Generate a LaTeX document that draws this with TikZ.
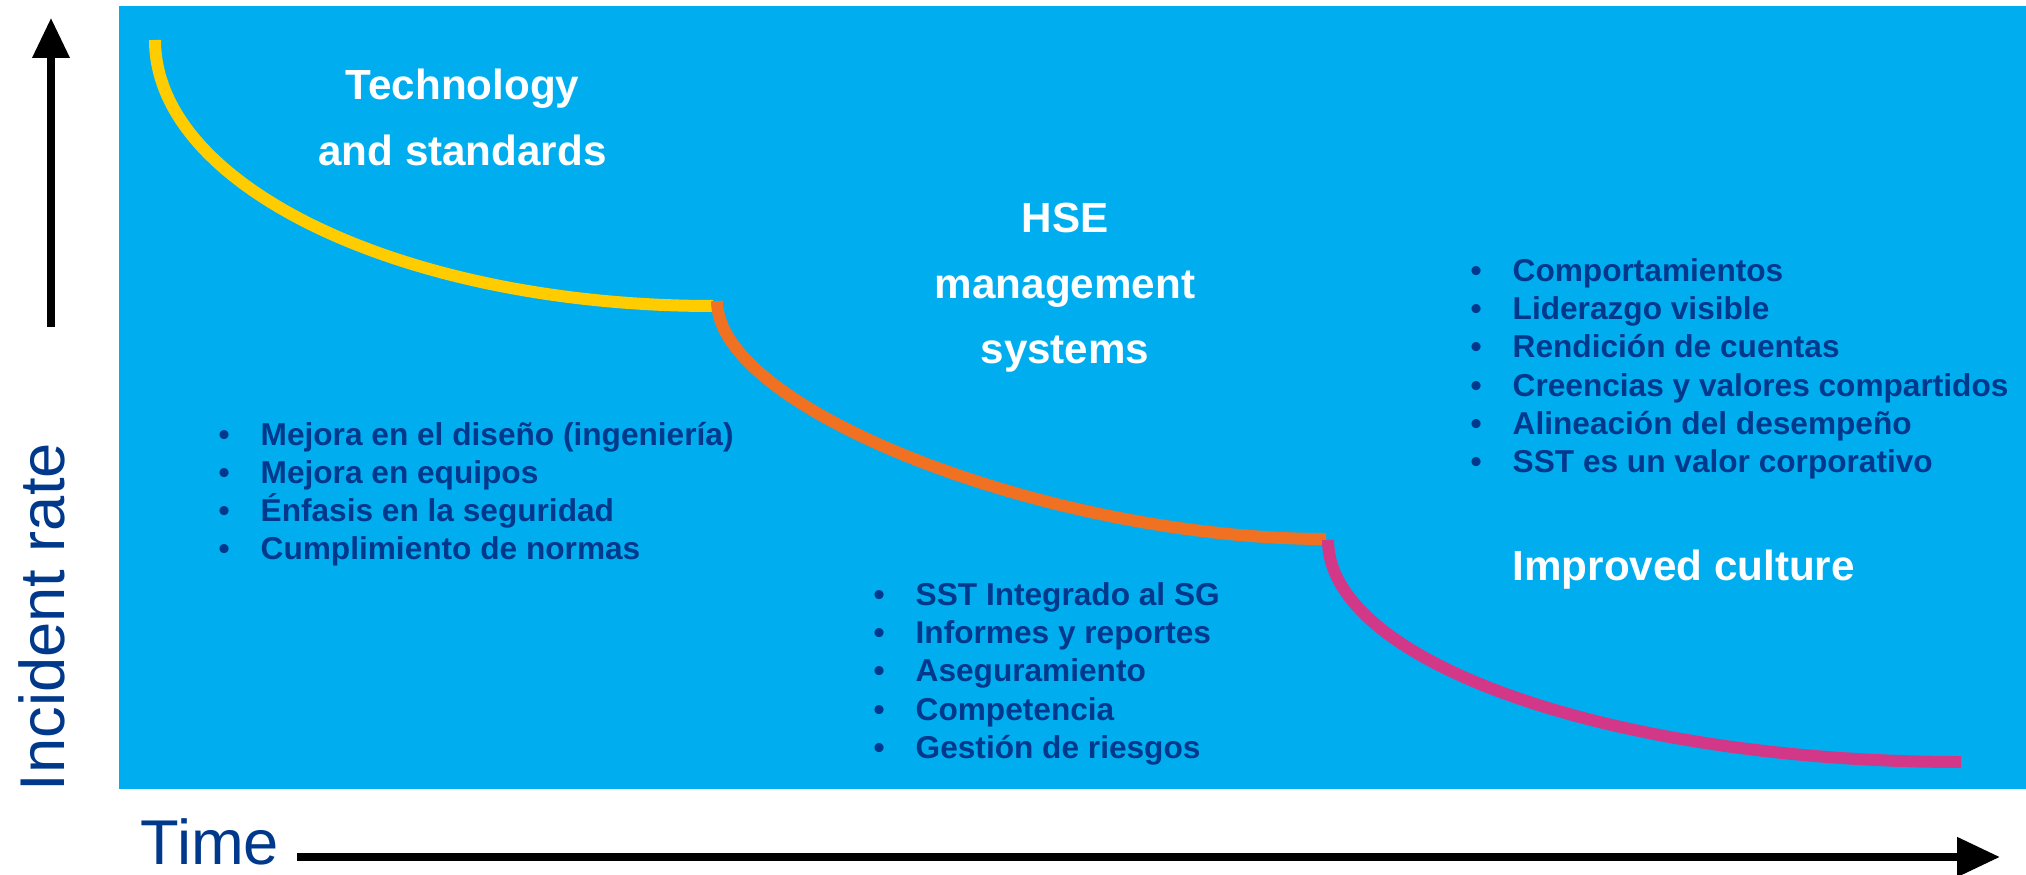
\documentclass[tikz,border=0pt]{standalone}
\usepackage{fontspec}
\setmainfont{Liberation Sans}
\usetikzlibrary{arrows.meta}
\definecolor{skyblue}{RGB}{0,174,239}
\definecolor{phaseyellow}{RGB}{255,204,0}
\definecolor{phaseorange}{RGB}{240,113,34}
\definecolor{phasepink}{RGB}{210,56,135}
\definecolor{navy}{RGB}{0,56,140}
\newcommand{\bul}{\makebox[0.42cm][l]{\textbullet}}

\begin{document}
\begin{tikzpicture}[
  phase/.style={text=white, font=\fontsize{12}{14}\selectfont\bfseries, inner sep=0, anchor=base},
  item/.style={text=navy, font=\fontsize{9}{11}\selectfont\bfseries, inner sep=0, anchor=base west},
  axislabel/.style={text=navy, font=\fontsize{18}{21}\selectfont, inner sep=0, anchor=base west},
  curve/.style={line width=0.12cm},
  axis/.style={line width=0.07cm, -{Triangle[length=0.40cm,width=0.36cm]}}
]
\useasboundingbox (0,0) rectangle (20.26,8.74);
\fill [skyblue] (1.19,0.85) rectangle (20.26,8.68);

\draw [curve, phaseyellow] (1.55,8.34) .. controls (1.55,6.87) and (4.05,5.68) .. (7.13,5.68);
\draw [curve, phaseorange] (7.17,5.73) .. controls (7.17,4.64) and (10.52,3.35) .. (13.26,3.35);
\draw [curve, phasepink] (13.28,3.34) .. controls (13.28,2.12) and (16.12,1.12) .. (19.61,1.12);

\node [phase] (tech1) at (4.625,7.747) {Technology};
\node [phase] (tech2) at (4.625,7.083) {and standards};
\node [phase] (hse1) at (10.65,6.414) {HSE};
\node [phase] (hse2) at (10.65,5.757) {management};
\node [phase] (hse3) at (10.65,5.10) {systems};
\node [phase, anchor=base west] (cult) at (15.12,2.94) {Improved culture};

\node [item] (a1) at (2.18,4.29) {\bul Mejora en el diseño (ingeniería)};
\node [item] (a2) at (2.18,3.91) {\bul Mejora en equipos};
\node [item] (a3) at (2.18,3.53) {\bul Énfasis en la seguridad};
\node [item] (a4) at (2.18,3.15) {\bul Cumplimiento de normas};

\node [item] (b1) at (8.73,2.685) {\bul SST Integrado al SG};
\node [item] (b2) at (8.73,2.303) {\bul Informes y reportes};
\node [item] (b3) at (8.73,1.921) {\bul Aseguramiento};
\node [item] (b4) at (8.73,1.539) {\bul Competencia};
\node [item] (b5) at (8.73,1.157) {\bul Gestión de riesgos};

\node [item] (c1) at (14.70,5.925) {\bul Comportamientos};
\node [item] (c2) at (14.70,5.543) {\bul Liderazgo visible};
\node [item] (c3) at (14.70,5.161) {\bul Rendición de cuentas};
\node [item] (c4) at (14.70,4.779) {\bul Creencias y valores compartidos};
\node [item] (c5) at (14.70,4.397) {\bul Alineación del desempeño};
\node [item] (c6) at (14.70,4.015) {\bul SST es un valor corporativo};

\coordinate (ybot) at (0.51,5.47);
\coordinate (ytop) at (0.51,8.56);
\draw [axis] (ybot) -- (ytop);
\coordinate (xleft) at (2.97,0.17);
\coordinate (xright) at (20.00,0.17);
\draw [axis, line width=0.08cm, -{Triangle[length=0.43cm,width=0.38cm]}] (xleft) -- (xright);

\node [axislabel, rotate=90] (ylab) at (0.65,0.82) {Incident rate};
\node [axislabel] (xlab) at (1.40,0.10) {Time};
\end{tikzpicture}
\end{document}
